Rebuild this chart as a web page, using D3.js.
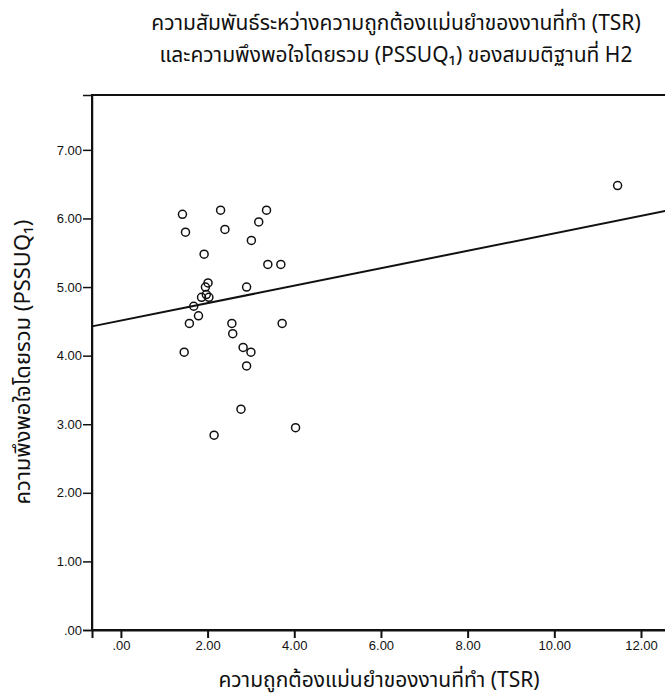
<!DOCTYPE html>
<html>
<head>
<meta charset="utf-8">
<script src="https://cdnjs.cloudflare.com/ajax/libs/d3/7.8.5/d3.min.js"></script>
<style>
    body { margin: 0; background: #fff; }
    .tick text { fill: #111; }
    .thai { font-family: "Noto Sans Thai", Tahoma, "Noto Sans", "DejaVu Sans", sans-serif; fill: #111; }
</style>
</head>
<body>
<div id="chart-area"></div>
<script>
// TSR (x) vs PSSUQ1 (y)
var tsr = [1.42, 2.30, 3.36, 3.18, 1.49, 2.40, 3.01, 1.92, 3.39, 3.69,
           2.01, 1.95, 2.90, 1.97, 1.86, 2.03, 1.68, 1.79, 1.58, 2.56,
           3.72, 2.58, 1.46, 2.82, 3.00, 2.90, 2.77, 2.15, 4.03, 11.46];
var pssuq = [6.06, 6.12, 6.12, 5.95, 5.80, 5.84, 5.68, 5.48, 5.33, 5.33,
             5.06, 5.00, 5.00, 4.89, 4.85, 4.85, 4.72, 4.58, 4.47, 4.47,
             4.47, 4.32, 4.05, 4.12, 4.05, 3.85, 3.22, 2.84, 2.95, 6.48];

var xTicks = [0, 2, 4, 6, 8, 10, 12];
var yTicks = [0, 1, 2, 3, 4, 5, 6, 7];

var titleLines = ["ความสัมพันธ์ระหว่างความถูกต้องแม่นยำของงานที่ทำ (TSR)",
                  "และความพึงพอใจโดยรวม (PSSUQ₁) ของสมมติฐานที่ H2"];
var xLabel = "ความถูกต้องแม่นยำของงานที่ทำ (TSR)";
var yLabel = "ความพึงพอใจโดยรวม (PSSUQ₁)";

var margin = { left: 92, right: 0, top: 95, bottom: 68 };
var width = 665 - margin.left - margin.right + 2,
    height = 698 - margin.top - margin.bottom;

var svg = d3.select("#chart-area").append("svg")
    .attr("width", 665)
    .attr("height", 698);

var g = svg.append("g")
    .attr("transform", "translate(" + margin.left + "," + margin.top + ")");

// Title
svg.selectAll(".title")
    .data(titleLines)
    .enter().append("text")
    .attr("class", "title thai")
    .attr("x", 396)
    .attr("y", function(d, i){ return 30 + i * 32; })
    .attr("font-size", "21px")
    .attr("text-anchor", "middle")
    .text(function(d){ return d; });

// Scales
var x = d3.scaleLinear()
    .domain([-0.667, 12.6])
    .range([0, width]);

var y = d3.scaleLinear()
    .domain([0, 7.8])
    .range([height, 0]);

// Frame (top + right)
g.append("rect")
    .attr("x", 0)
    .attr("y", 0)
    .attr("width", width)
    .attr("height", height)
    .attr("fill", "none")
    .attr("stroke", "#111")
    .attr("stroke-width", 2);

// X Axis
var xAxisCall = d3.axisBottom(x)
    .tickValues(xTicks)
    .tickSize(8)
    .tickPadding(3)
    .tickFormat(function(d){ return d === 0 ? ".00" : d3.format(".2f")(d); });
var xAxis = g.append("g")
    .attr("class", "x axis")
    .attr("transform", "translate(0," + height + ")")
    .call(xAxisCall)
    .attr("font-family", "Liberation Sans, Arial, sans-serif")
    .attr("font-size", 13);
xAxis.select(".domain").attr("stroke", "#111").attr("stroke-width", 2);
xAxis.selectAll(".tick line").attr("stroke", "#111").attr("stroke-width", 2);

// Y Axis
var yAxisCall = d3.axisLeft(y)
    .tickValues(yTicks)
    .tickSize(9)
    .tickPadding(1)
    .tickFormat(function(d){ return d === 0 ? ".00" : d3.format(".2f")(d); });
var yAxis = g.append("g")
    .attr("class", "y axis")
    .call(yAxisCall)
    .attr("font-family", "Liberation Sans, Arial, sans-serif")
    .attr("font-size", 13);
yAxis.select(".domain").attr("stroke", "#111").attr("stroke-width", 1.5);
yAxis.selectAll(".tick line").attr("stroke", "#111").attr("stroke-width", 1.5);

// X Label
svg.append("text")
    .attr("class", "thai")
    .attr("x", 379)
    .attr("y", 687)
    .attr("font-size", "21px")
    .attr("text-anchor", "middle")
    .text(xLabel);

// Y Label
svg.append("text")
    .attr("class", "thai")
    .attr("x", -362)
    .attr("y", 30)
    .attr("font-size", "22px")
    .attr("text-anchor", "middle")
    .attr("transform", "rotate(-90)")
    .text(yLabel);

// Fit line (least squares from the points)
var mx = d3.mean(tsr), my = d3.mean(pssuq);
var sxy = d3.sum(tsr, function(v, i){ return (v - mx) * (pssuq[i] - my); });
var sxx = d3.sum(tsr, function(v){ return (v - mx) * (v - mx); });
var slope = sxy / sxx, intercept = my - slope * mx;
var xd = x.domain();

g.append("line")
    .attr("x1", x(xd[0]))
    .attr("y1", y(intercept + slope * xd[0]))
    .attr("x2", x(xd[1]))
    .attr("y2", y(intercept + slope * xd[1]))
    .attr("stroke", "#111")
    .attr("stroke-width", 2);

// Points
g.selectAll("circle")
    .data(tsr)
    .enter().append("circle")
    .attr("cx", function(d){ return x(d); })
    .attr("cy", function(d, i){ return y(pssuq[i]); })
    .attr("r", 4)
    .attr("fill", "none")
    .attr("stroke", "#111")
    .attr("stroke-width", 1.5);
</script>
</body>
</html>
